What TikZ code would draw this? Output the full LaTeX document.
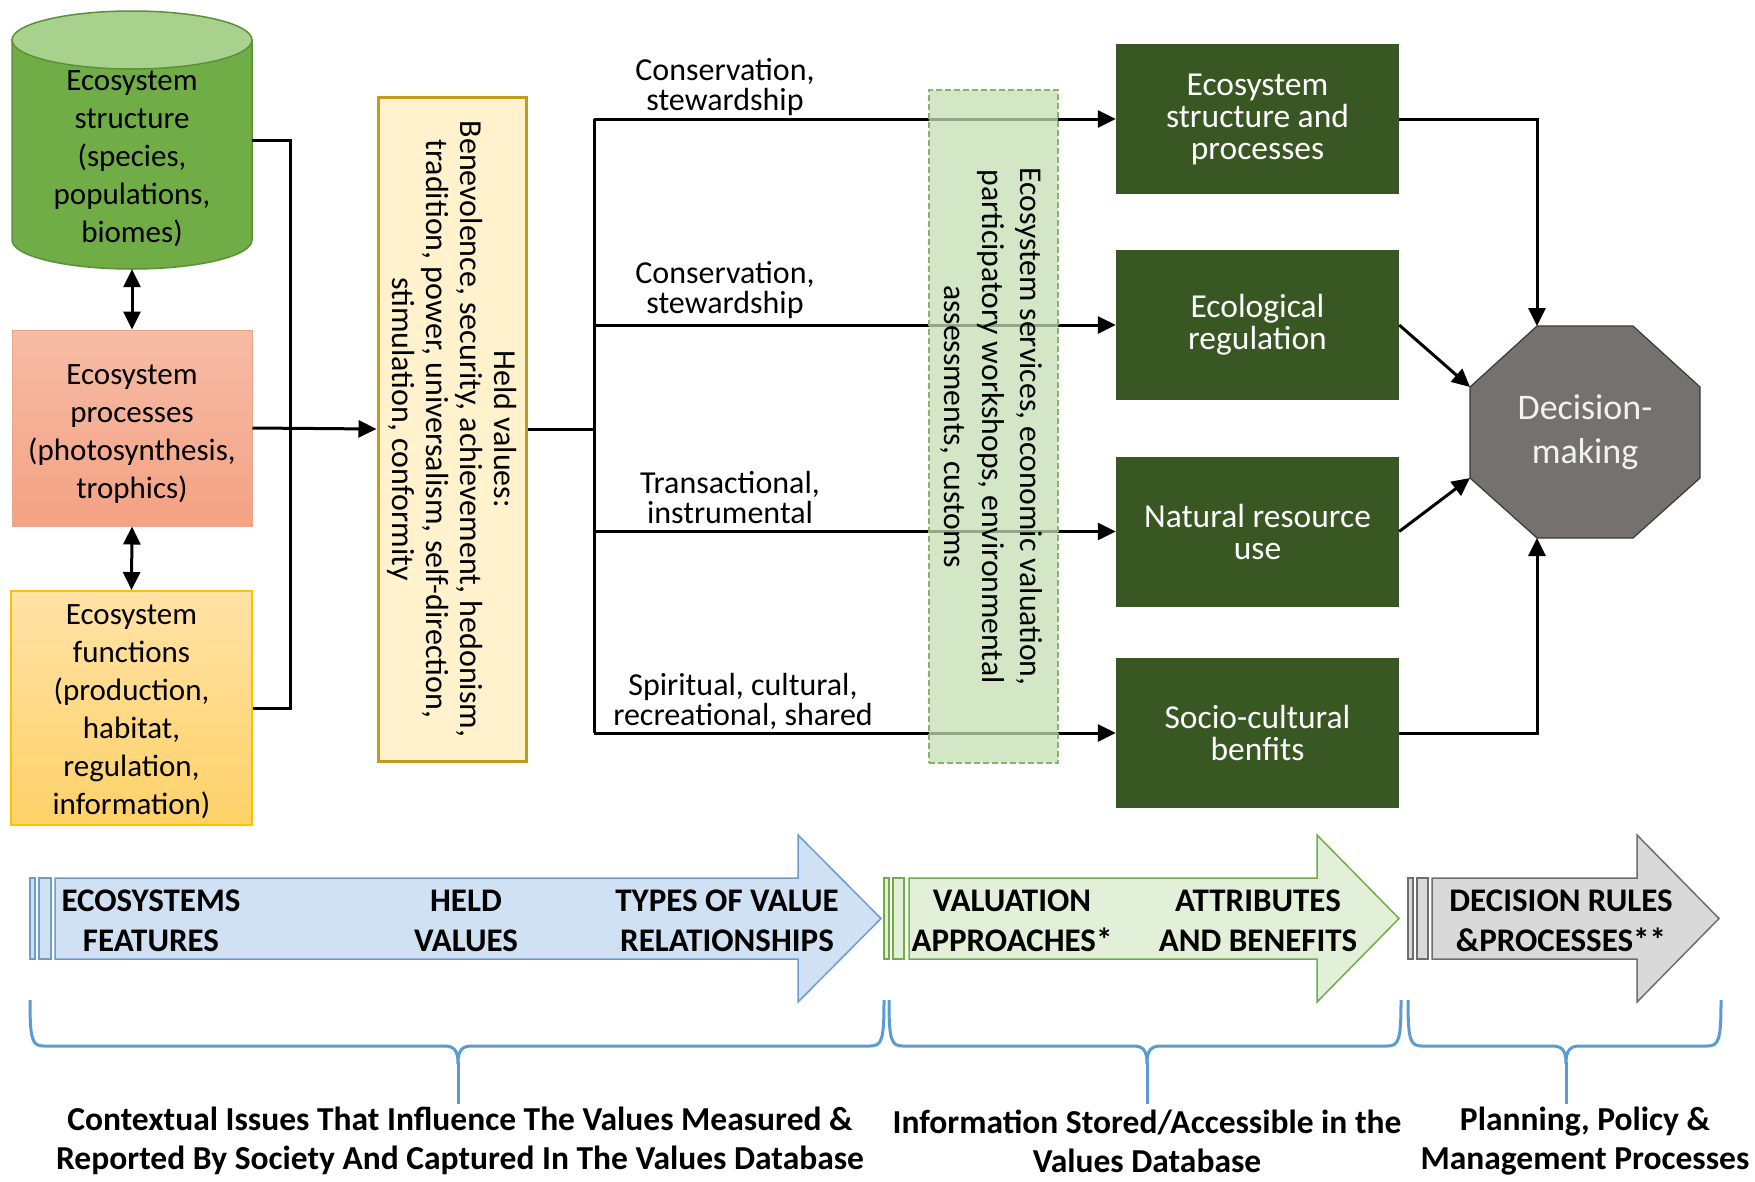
\documentclass[tikz,border=0pt]{standalone}
\usepackage{fontspec}
\setmainfont{Carlito}
\usetikzlibrary{arrows.meta,calc}

\definecolor{cylbody}{HTML}{70AD47}
\definecolor{cyltop}{HTML}{A9D18E}
\definecolor{cylline}{HTML}{5A9137}
\definecolor{proctop}{HTML}{F6BCA6}
\definecolor{procbot}{HTML}{F4A283}
\definecolor{procline}{HTML}{E8A58A}
\definecolor{functop}{HTML}{FFE2A6}
\definecolor{funcbot}{HTML}{FFD168}
\definecolor{funcline}{HTML}{FFC000}
\definecolor{heldfill}{HTML}{FFF2CC}
\definecolor{heldline}{HTML}{C49A1E}
\definecolor{valfill}{HTML}{C5E0B4}
\definecolor{valline}{HTML}{86B46A}
\definecolor{dkgreen}{HTML}{385723}
\definecolor{octfill}{HTML}{767171}
\definecolor{octline}{HTML}{3B3838}
\definecolor{bluefill}{HTML}{CFE1F2}
\definecolor{blueline}{HTML}{6E9BCF}
\definecolor{greenfill}{HTML}{E2F0D9}
\definecolor{greenline}{HTML}{70AD47}
\definecolor{grayfill}{HTML}{D9D9D9}
\definecolor{grayline}{HTML}{6E6E6E}
\definecolor{bracecol}{HTML}{5B9BD5}

\tikzset{
  wire/.style={line width=3pt, draw=black},
  arr/.style={wire, -{Triangle[length=18pt,width=17pt]}},
  darr/.style={wire, {Triangle[length=18pt,width=17pt]}-{Triangle[length=18pt,width=17pt]}},
  featfont/.style={font=\fontsize{31}{38}\selectfont, align=center},
  lbl/.style={font=\fontsize{32}{30}\selectfont, align=center, inner sep=0pt},
  gbox/.style={fill=dkgreen, draw=none, text=white, minimum width=283pt,
    minimum height=150pt, inner sep=0pt, align=center,
    font=\fontsize{33.5}{32}\selectfont},
  bandtext/.style={font=\bfseries\fontsize{33}{40}\selectfont, align=center, inner sep=0pt},
  captext/.style={font=\bfseries\fontsize{33.5}{39}\selectfont, align=center, inner sep=0pt},
  brace/.style={draw=bracecol, line width=3pt, line join=round},
}

% a curly bracket opening downwards: left end, right end, tip position
\newcommand\downbrace[3]{%
  \draw[brace] (#1,1000) .. controls (#1,1040) and (#1+2,1046) .. (#1+14,1046)
    -- (#3-14,1046) .. controls (#3-4,1046) and (#3,1050) .. (#3,1064)
    .. controls (#3,1050) and (#3+4,1046) .. (#3+14,1046)
    -- (#2-14,1046) .. controls (#2-2,1046) and (#2,1040) .. (#2,1000);
  \draw[brace] (#3,1062) -- (#3,1104);
}

\begin{document}
\begin{tikzpicture}[x=1pt,y=-1pt]
\fill[white] (0,0) rectangle (1755,1181);
\useasboundingbox (0,0) rectangle (1755,1181);

% ---------- ecosystem features ----------
\path[draw=cylline, line width=1.5pt, fill=cylbody]
  (12,40) -- (12,240) arc[start angle=180, end angle=0, x radius=120, y radius=29]
  -- (252,40) -- cycle;
\draw[draw=cylline, line width=1.5pt, fill=cyltop] (132,40) ellipse[x radius=120, y radius=29];
\node[minimum width=240pt, minimum height=258pt, inner sep=0pt] (cyl) at (132,140) {};
\node[featfont] (cyltxt) at (132,159) {Ecosystem\\structure\\(species,\\populations,\\biomes)};

\node[minimum width=240pt, minimum height=196pt, top color=proctop, bottom color=procbot,
      draw=procline, line width=1pt, inner sep=0pt] (proc) at (132,428) {};
\node[featfont] (proctxt) at (132,434) {Ecosystem\\processes\\(photosynthesis,\\trophics)};

\node[minimum width=241pt, minimum height=234pt, top color=functop, bottom color=funcbot,
      draw=funcline, line width=2pt, inner sep=0pt] (func) at (131.5,708) {};
\node[featfont] (functxt) at (131.5,712) {Ecosystem\\functions\\(production,\\habitat,\\regulation,\\information)};

\draw[darr] (cyl.south) -- (proc.north);
\draw[darr] (proc.south) -- (func.north);

% ---------- held values ----------
\node[minimum width=148pt, minimum height=664pt, fill=heldfill, draw=heldline,
      line width=3pt] (held) at (452,429) {};
\node[rotate=-90, font=\fontsize{32}{34}\selectfont, align=center] (heldtxt) at (452,429)
  {Held values:\\Benevolence, security, achievement, hedonism,\\tradition, power, universalism, self-direction,\\stimulation, conformity};

\draw[wire] (cyl.east) -- ++(38,0) |- (func.east);
\draw[arr] (proc.east) -- (held.west);

% ---------- value relationships ----------
\node[gbox] (gb1) at (1257.5,119) {Ecosystem\\structure and\\processes};
\node[gbox] (gb2) at (1257.5,325) {Ecological\\regulation};
\node[gbox] (gb3) at (1257.5,531.5) {Natural resource\\use};
\node[gbox] (gb4) at (1257.5,733) {Socio-cultural\\benfits};

\coordinate (split) at (594,429);
\coordinate (t1) at (594,119);
\coordinate (t2) at (594,325);
\coordinate (t3) at (594,531.5);
\coordinate (t4) at (594,733);
\draw[wire] (held.east) -- (split);
\draw[wire] (t1) -- (t4);
\draw[arr] (t1) -- (gb1.west);
\draw[arr] (t2) -- (gb2.west);
\draw[arr] (t3) -- (gb3.west);
\draw[arr] (t4) -- (gb4.west);

\node[lbl] (l1) at (725,87) {Conservation,\\stewardship};
\node[lbl] (l2) at (725,290) {Conservation,\\stewardship};
\node[lbl] (l3) at (730,497) {Transactional,\\instrumental};
\node[lbl] (l4) at (743,701) {Spiritual, cultural,\\recreational, shared};

% valuation approaches band (lies over the connectors)
\node[minimum width=129pt, minimum height=673pt, fill=valfill, fill opacity=0.75,
      draw=valline, dashed, dash pattern=on 6pt off 3pt, line width=1.5pt] (val) at (993.5,426.5) {};
\node[rotate=-90, font=\fontsize{31.7}{38}\selectfont, align=center] (valtxt) at (991,426.5)
  {Ecosystem services, economic valuation,\\participatory workshops, environmental\\assessments, customs};

% ---------- decision-making ----------
\coordinate (o1) at (1537,326);
\coordinate (o2) at (1633,326);
\coordinate (o3) at (1700,387);
\coordinate (o4) at (1700,478);
\coordinate (o5) at (1633,538);
\coordinate (o6) at (1537,538);
\coordinate (o7) at (1470,478);
\coordinate (o8) at (1470,387);
\draw[fill=octfill, draw=octline, line width=1.2pt]
  (o1) -- (o2) -- (o3) -- (o4) -- (o5) -- (o6) -- (o7) -- (o8) -- cycle;
\node[text=white!95!black, font=\fontsize{36}{44}\selectfont, align=center] (dm) at (1585,432) {Decision-\\making};

\draw[arr] (gb1.east) -| (o1);
\draw[arr] (gb2.east) -- (o8);
\draw[arr] (gb3.east) -- (o7);
\draw[arr] (gb4.east) -| (o6);

% ---------- process band ----------
\draw[fill=bluefill, draw=blueline, line width=1.5pt] (30,878) rectangle (35,959);
\draw[fill=bluefill, draw=blueline, line width=1.5pt] (39,878) rectangle (51,959);
\draw[fill=bluefill, draw=blueline, line width=1.5pt]
  (55,878) -- (798,878) -- (798,835) -- (881,918.5) -- (798,1002) -- (798,959) -- (55,959) -- cycle;

\draw[fill=greenfill, draw=greenline, line width=1.5pt] (884,878) rectangle (889,959);
\draw[fill=greenfill, draw=greenline, line width=1.5pt] (893,878) rectangle (904,959);
\draw[fill=greenfill, draw=greenline, line width=1.5pt]
  (909,878) -- (1317,878) -- (1317,835) -- (1399,918.5) -- (1317,1002) -- (1317,959) -- (909,959) -- cycle;

\draw[fill=grayfill, draw=grayline, line width=1.5pt] (1408,878) rectangle (1413,959);
\draw[fill=grayfill, draw=grayline, line width=1.5pt] (1417,878) rectangle (1428,959);
\draw[fill=grayfill, draw=grayline, line width=1.5pt]
  (1432,878) -- (1637,878) -- (1637,835) -- (1719,918.5) -- (1637,1002) -- (1637,959) -- (1432,959) -- cycle;

\node[bandtext] (b1) at (151,921) {ECOSYSTEMS\\FEATURES};
\node[bandtext] (b2) at (466,921) {HELD\\VALUES};
\node[bandtext] (b3) at (727,921) {TYPES OF VALUE\\RELATIONSHIPS};
\node[bandtext] (b4) at (1012,921) {VALUATION\\APPROACHES*};
\node[bandtext] (b5) at (1258,921) {ATTRIBUTES\\AND BENEFITS};
\node[bandtext] (b6) at (1561,921) {DECISION RULES\\\&PROCESSES**};

% ---------- brackets and captions ----------
\downbrace{30}{884}{458}
\downbrace{889}{1401}{1147}
\downbrace{1408}{1721}{1566}

\node[captext] (c1) at (460,1141) {Contextual Issues That Influence The Values Measured \&\\Reported By Society And Captured In The Values Database};
\node[captext] (c2) at (1147,1141) {Information Stored/Accessible in the\\Values Database};
\node[captext] (c3) at (1585,1141) {Planning, Policy \&\\Management Processes};
\end{tikzpicture}
\end{document}
